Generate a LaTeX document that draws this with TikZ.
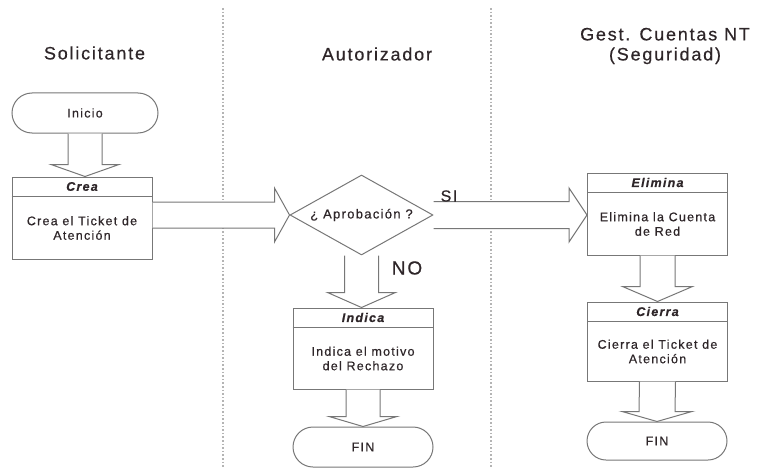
\documentclass[tikz,border=0pt]{standalone}
\usepackage{fontspec}
\setmainfont{Liberation Sans}[LetterSpace=10, FakeBold=0.5]
\usetikzlibrary{shapes.geometric,shapes.misc,calc}

\definecolor{edge}{HTML}{777777}
\definecolor{ink}{HTML}{2E2629}
\definecolor{lanecol}{HTML}{B4B4B4}

% block arrow pointing down: #1 start on axis, #2 tip, #3 shaft half width, #4 head half width, #5 head length
\newcommand{\fatdown}[5]{%
  \draw[blockarrow] ($(#1)+(-#3,0)$) -- ($(#2)+(-#3,-#5)$) -- ($(#2)+(-#4,-#5)$) -- (#2)
    -- ($(#2)+(#4,-#5)$) -- ($(#2)+(#3,-#5)$) -- ($(#1)+(#3,0)$);}
% block arrow pointing right
\newcommand{\fatright}[5]{%
  \draw[blockarrow] ($(#1)+(0,-#3)$) -- ($(#2)+(-#5,-#3)$) -- ($(#2)+(-#5,-#4)$) -- (#2)
    -- ($(#2)+(-#5,#4)$) -- ($(#2)+(-#5,#3)$) -- ($(#1)+(0,#3)$);}
% process box with a header strip
\newcommand{\procbox}[5]{%
  \node[procbox, minimum height=#3] (#1) at (#2) {};
  \draw[edge, line width=1pt] ($(#1.north west)+(0,20)$) -- ($(#1.north east)+(0,20)$);
  \node[hdr] (#1-h) at ($(#1.north)+(0,10)$) {#4};
  \node[body] (#1-b) at ($(#1.center)+(0,10)$) {#5};}

\begin{document}
\begin{tikzpicture}[x=1pt, y=-1pt,
  every node/.style={text=ink},
  lanetitle/.style={font=\fontsize{18}{20}\selectfont, align=center},
  body/.style={font=\fontsize{12.5}{14.5}\selectfont, align=center},
  hdr/.style={font=\fontsize{12.5}{14}\selectfont\bfseries\itshape},
  procbox/.style={draw=edge, line width=1pt, fill=white, rectangle, minimum width=140pt, inner sep=0pt},
  term/.style={draw=edge, line width=1pt, fill=white, rounded rectangle, minimum width=146pt,
    minimum height=40pt, inner sep=0pt, font=\fontsize{12.5}{14}\selectfont},
  blockarrow/.style={draw=edge, line width=1pt, fill=white, line join=miter},
  lane/.style={draw=lanecol, line width=1.6pt, dotted}]

\path[use as bounding box] (0,0) rectangle (759,468);

% swimlane separators
\draw[lane] (223,8) -- (223,468);
\draw[lane] (491,8) -- (491,468);

% lane titles
\node[lanetitle] (t1) at (94.5,53) {Solicitante};
\node[lanetitle] (t2) at (377,54) {Autorizador};
\node[lanetitle] (t3) at (665,46) {Gest. Cuentas NT\\(Seguridad)};

% nodes
\node[term] (inicio) at (85,113) {Inicio};
\procbox{crea}{82,218}{82pt}{Crea}{Crea el Ticket de\\Atención}
\node[diamond, draw=edge, line width=1pt, fill=white, minimum width=143pt, minimum height=80pt, inner sep=0pt] (dec) at (361.5,215) {};
\node[body, font=\fontsize{13}{15}\selectfont] (dec-t) at (dec.center) {¿ Aprobación ?};
\procbox{indica}{363,348.5}{81pt}{Indica}{Indica el motivo\\del Rechazo}
\node[term, minimum width=140pt] (fin1) at (363,447) {FIN};
\procbox{elimina}{657.5,214}{82pt}{Elimina}{Elimina la Cuenta\\de Red}
\procbox{cierra}{657.5,341.5}{79pt}{Cierra}{Cierra el Ticket de\\Atención}
\node[term, minimum width=140pt, minimum height=38pt] (fin2) at (657,441) {FIN};

% connectors
\fatdown{inicio.south}{crea.north -| inicio.south}{17}{34}{12}
\fatright{crea.east |- dec.west}{dec.west}{13}{27}{15}
\fatright{dec.east}{elimina.west |- dec.east}{13.5}{27}{18}
\fatdown{dec.south}{indica.north -| dec.south}{17}{34}{15}
\fatdown{indica.south}{fin1.north}{17}{34}{10}
\fatdown{elimina.south}{cierra.north}{17.5}{35}{15}
\fatdown{cierra.south}{fin2.north}{18}{35}{10}

% branch labels
\node[font=\fontsize{16}{18}\selectfont] (si) at (449,196) {SI};
\node[font=\fontsize{19}{21}\selectfont] (no) at (407,268) {NO};
\end{tikzpicture}
\end{document}
